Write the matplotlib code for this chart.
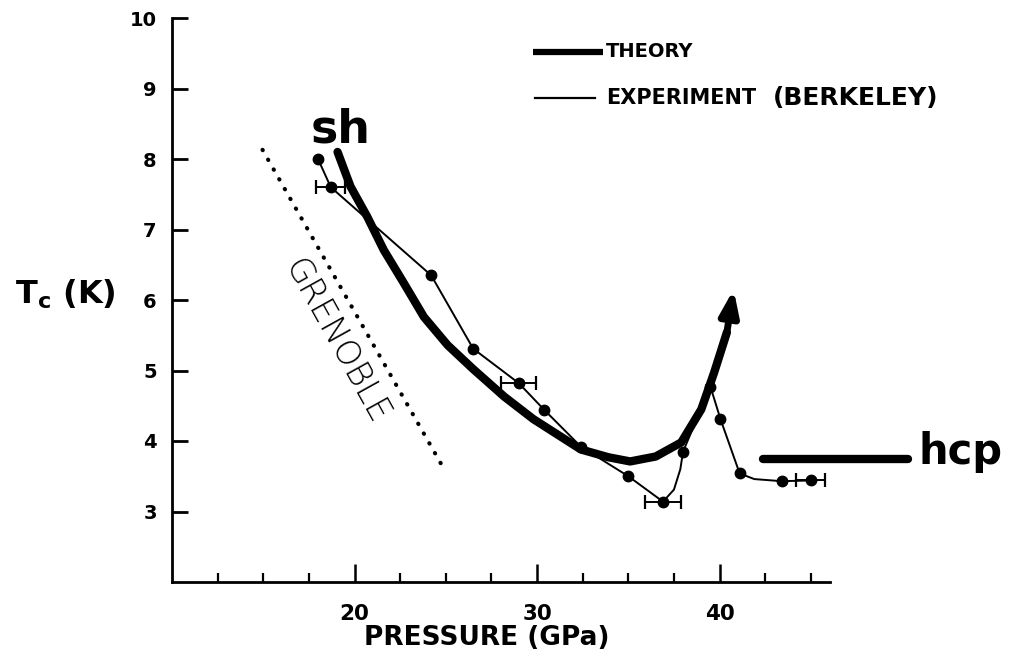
import matplotlib
matplotlib.use("Agg")
import matplotlib.pyplot as plt

# theory curve (thick)
theory_p = [19.07, 19.78, 20.7, 21.6, 22.7, 23.8, 25.1, 26.5, 28.2, 29.8,
            32.4, 33.9, 35.1, 36.5, 37.9, 39.0, 39.7, 40.4]
theory_t = [8.10, 7.61, 7.18, 6.71, 6.24, 5.76, 5.36, 5.02, 4.63, 4.31,
            3.88, 3.77, 3.71, 3.78, 3.98, 4.45, 4.97, 5.54]
theory_tip = (40.77, 6.15)

# experiment (Berkeley): line vertices and measured points
exp_line_p = [18.0, 18.7, 24.2, 26.5, 29.0, 30.4, 32.4, 35.0, 36.9, 37.5, 37.85,
              38.0, 39.5, 40.05, 41.1, 41.9, 43.4, 45.0]
exp_line_t = [8.0, 7.6, 6.35, 5.31, 4.82, 4.44, 3.92, 3.50, 3.14, 3.31, 3.6,
              3.85, 4.77, 4.31, 3.54, 3.46, 3.43, 3.44]
exp_p = [18.0, 18.7, 24.2, 26.5, 29.0, 30.4, 32.4, 35.0, 36.9, 38.0, 39.5,
         40.05, 41.1, 43.4, 45.0]
exp_t = [8.0, 7.6, 6.35, 5.31, 4.82, 4.44, 3.92, 3.50, 3.14, 3.85, 4.77,
         4.31, 3.54, 3.43, 3.44]
err_p = [18.7, 29.0, 36.9, 45.0]
err_t = [7.6, 4.82, 3.14, 3.44]
err_x = [0.8, 0.95, 1.0, 0.8]

# Grenoble dotted line and hcp theory level
gren_p = [14.96, 24.82]
gren_t = [8.13, 3.64]
hcp_p = [42.4, 50.3]
hcp_t = [3.74, 3.74]

plt.rcParams["font.family"] = "DejaVu Sans"
plt.rcParams["font.weight"] = "bold"
plt.rcParams["mathtext.fontset"] = "dejavusans"

fig = plt.figure(figsize=(10.21, 6.58), dpi=100)
ax = fig.add_axes([172 / 1021, 76 / 658, 658 / 1021, 564 / 658])
ax.set_xlim(10, 46.05)
ax.set_ylim(2, 10)

K = "black"
ax.plot(theory_p, theory_t, color=K, lw=6, solid_capstyle="round",
        solid_joinstyle="round", zorder=3)
ax.annotate("", xy=theory_tip, xytext=(theory_p[-1], theory_t[-1]),
            arrowprops=dict(arrowstyle="-|>,head_length=0.75,head_width=0.28",
                            color=K, lw=5, shrinkA=0, shrinkB=0,
                            mutation_scale=20), zorder=3)
ax.plot(exp_line_p, exp_line_t, color=K, lw=1.4, zorder=4)
ax.plot(exp_p, exp_t, "o", color=K, ms=7.5, zorder=5)
ax.errorbar(err_p, err_t, xerr=err_x, fmt="none", ecolor=K, elinewidth=1.4,
            capsize=5, capthick=1.6, zorder=4)

ax.plot(gren_p, gren_t, color=K, lw=3, ls=(0, (0.1, 2.6)),
        dash_capstyle="round", zorder=2)
ax.plot(hcp_p, hcp_t, color=K, lw=6, solid_capstyle="round", clip_on=False, zorder=3)

ax.text(19.0, 5.42, "GRENOBLE", rotation=-61, rotation_mode="anchor",
        ha="center", va="center", fontsize=24, fontweight="light", color=K)
ax.text(17.6, 8.24, "sh", fontsize=33, ha="left", va="baseline", color=K)
ax.text(50.9, 3.68, "hcp", fontsize=30, ha="left", va="baseline", color=K)

# hand-made legend
ax.plot([29.8, 33.6], [9.52, 9.52], color=K, lw=4.5, solid_capstyle="butt")
ax.text(33.75, 9.52, "THEORY", fontsize=14, va="center", ha="left", color=K)
ax.plot([29.9, 33.2], [8.87, 8.87], color=K, lw=1.6)
ax.text(33.8, 8.87, "EXPERIMENT", fontsize=15, va="center", ha="left", color=K)
ax.text(42.9, 8.87, "(BERKELEY)", fontsize=18, va="center", ha="left", color=K)

for sp in ("top", "right"):
    ax.spines[sp].set_visible(False)
for sp in ("left", "bottom"):
    ax.spines[sp].set_linewidth(2)

ax.set_yticks(range(3, 11))
ax.set_xticks([20, 30, 40])
ax.set_xticks([12.5, 15, 17.5, 22.5, 25, 27.5, 32.5, 35, 37.5, 42.5, 45], minor=True)
ax.tick_params(axis="y", direction="in", length=11.5, width=2, pad=11, labelsize=14)
ax.tick_params(axis="x", which="major", direction="in", length=13, width=1.8,
               pad=16, labelsize=15.5)
ax.tick_params(axis="x", which="minor", direction="in", length=6.5, width=1.6)

fig.text(487 / 1021, 1 - 638 / 658, "PRESSURE (GPa)", fontsize=19,
         ha="center", va="center")
fig.text(15 / 1021, 1 - 304 / 658, r"T$_\mathbf{c}$ (K)", fontsize=23,
         ha="left", va="baseline")

fig.savefig("out.png", dpi=100)
